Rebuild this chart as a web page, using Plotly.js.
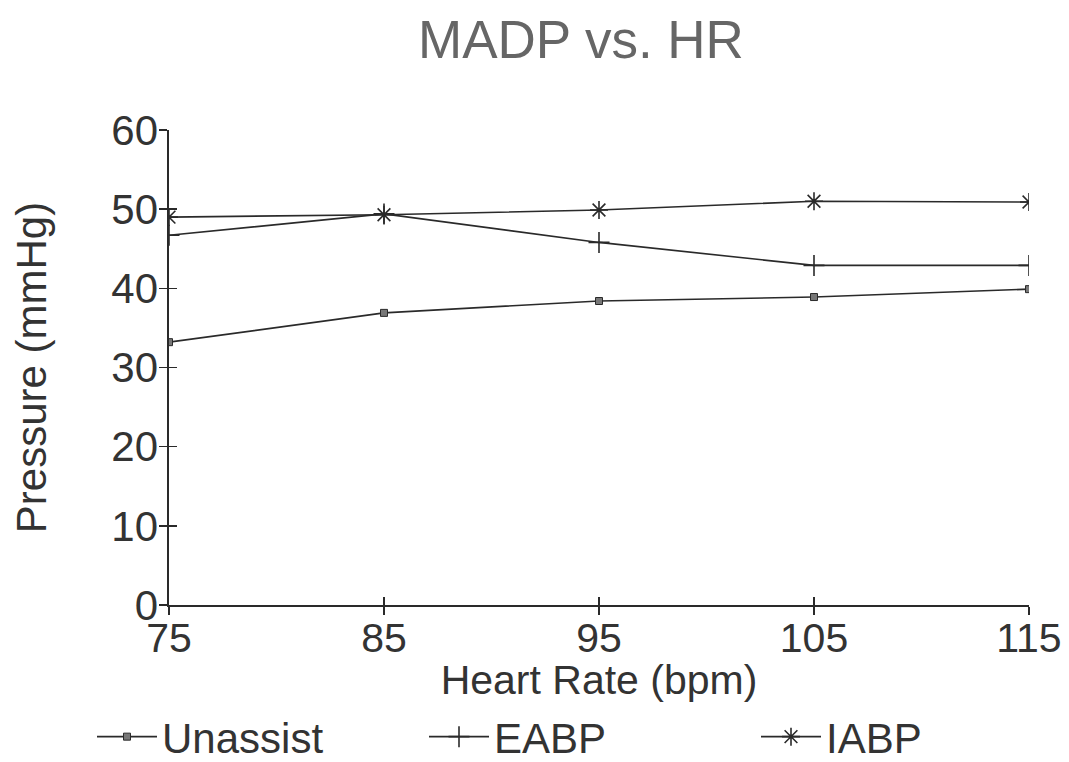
<!DOCTYPE html>
<html>
<head>
<meta charset="utf-8">
<script src="https://cdn.plot.ly/plotly-3.0.1.min.js"></script>
<style>
html,body{margin:0;padding:0;background:#fff;}
#chart{width:1069px;height:762px;}
</style>
</head>
<body>
<div id="chart"></div>
<script>
const heartRate = [75, 85, 95, 105, 115];
const unassist = [33.2, 36.9, 38.4, 38.9, 39.9];
const eabp = [46.7, 49.4, 45.8, 42.9, 42.9];
const iabp = [49.0, 49.3, 49.9, 51.0, 50.9];
const xTicks = [75, 85, 95, 105, 115];
const yTicks = [0, 10, 20, 30, 40, 50, 60];

const FONT = 'Liberation Sans, Arial, sans-serif';
const INK = '#2a2a2a';

const traces = [
  {x: heartRate, y: unassist, name: 'Unassist', mode: 'lines+markers', legend: 'legend',
   line: {color: INK, width: 1.6},
   marker: {symbol: 'square', size: 7, color: '#777', line: {color: INK, width: 1}}},
  {x: heartRate, y: eabp, name: 'EABP', mode: 'lines+markers', legend: 'legend2',
   line: {color: INK, width: 1.6},
   marker: {symbol: 'cross-thin-open', size: 15, color: INK, line: {color: INK, width: 1.6}}},
  {x: heartRate, y: iabp, name: 'IABP', mode: 'lines+markers', legend: 'legend3',
   line: {color: INK, width: 1.6},
   marker: {symbol: 'asterisk-open', size: 15, color: INK, line: {color: INK, width: 1.6}}},
  {x: [heartRate[0]], y: [yTicks[0]], xaxis: 'x2', yaxis: 'y2', mode: 'markers',
   marker: {opacity: 0}, showlegend: false, hoverinfo: 'skip'}
];

function legendAt(xpx) {
  return {orientation: 'h', xref: 'container', yref: 'container', x: xpx / 1069, xanchor: 'left',
          y: 0.033, yanchor: 'middle', font: {size: 42, color: '#333'}, itemwidth: 60,
          bgcolor: 'rgba(0,0,0,0)'};
}

const layout = {
  width: 1069, height: 762,
  paper_bgcolor: '#fff', plot_bgcolor: '#fff',
  margin: {l: 169, r: 40, t: 130, b: 157},
  font: {family: FONT, color: INK},
  title: {text: 'MADP vs. HR', font: {family: FONT, size: 53, color: '#666'},
          x: 0.479, xref: 'paper', xanchor: 'center', y: 0.948, yref: 'container', yanchor: 'middle'},
  xaxis: {range: [75, 115], tickvals: xTicks, ticktext: xTicks.map(String),
          showgrid: false, zeroline: false, showline: true, linecolor: INK, linewidth: 1.6,
          ticks: 'outside', ticklen: 8, tickwidth: 1.4, tickcolor: INK, ticklabelstandoff: -12,
          tickfont: {size: 41, color: '#333'},
          title: {text: 'Heart Rate (bpm)', font: {size: 41, color: '#333'}, standoff: 58}},
  yaxis: {range: [0, 60], tickvals: yTicks, ticktext: yTicks.map(String),
          showgrid: false, zeroline: false, showline: true, linecolor: INK, linewidth: 1.6,
          ticks: 'outside', ticklen: 8, tickwidth: 1.4, tickcolor: INK, ticklabelstandoff: -7,
          tickfont: {size: 42, color: '#333'},
          title: {text: 'Pressure (mmHg)', font: {size: 42, color: '#333'}, standoff: 51}},
  xaxis2: {overlaying: 'x', matches: 'x', range: [75, 115], tickvals: xTicks, showticklabels: false,
           showgrid: false, zeroline: false, showline: false,
           ticks: 'inside', ticklen: 8, tickwidth: 1.4, tickcolor: INK, anchor: 'y2', side: 'bottom'},
  yaxis2: {overlaying: 'y', matches: 'y', range: [0, 60], tickvals: yTicks, showticklabels: false,
           showgrid: false, zeroline: false, showline: false,
           ticks: 'inside', ticklen: 8, tickwidth: 1.4, tickcolor: INK, anchor: 'x2', side: 'left'},
  showlegend: true,
  legend: legendAt(92),
  legend2: legendAt(424),
  legend3: legendAt(756)
};

Plotly.newPlot('chart', traces, layout, {displayModeBar: false, staticPlot: true});
</script>
</body>
</html>
